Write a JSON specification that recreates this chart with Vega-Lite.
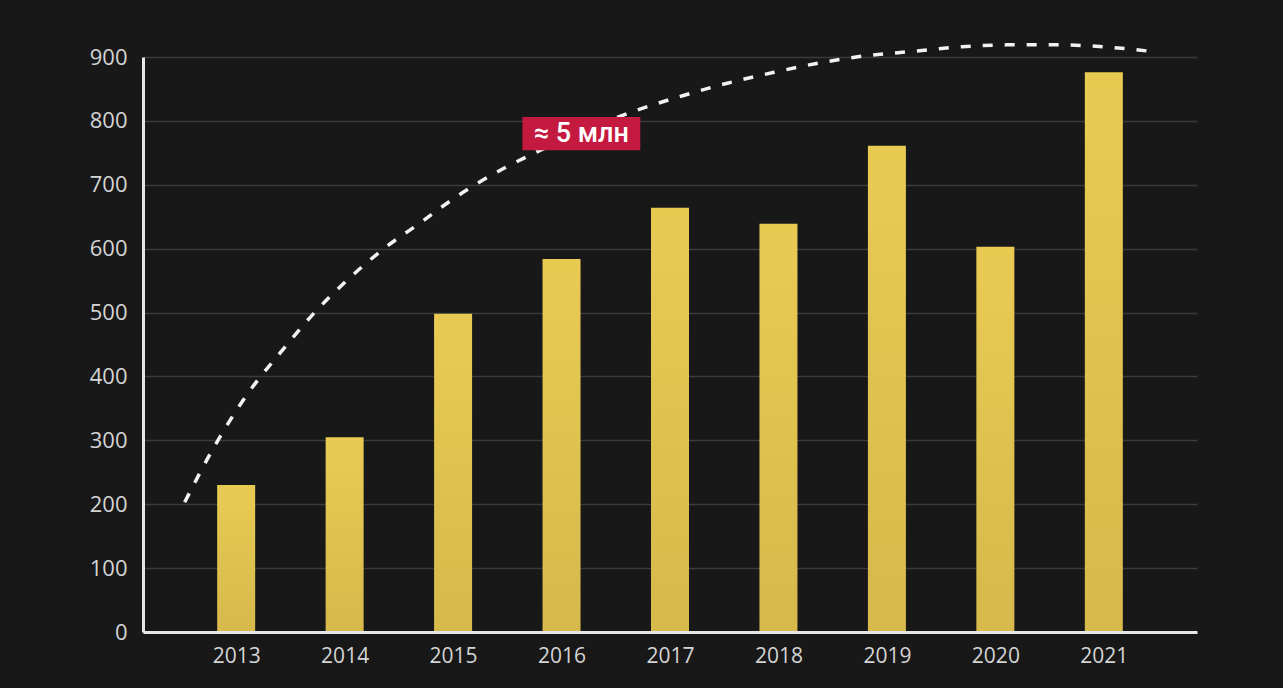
{
  "$schema": "https://vega.github.io/schema/vega-lite/v6.json",
  "width": 1054,
  "height": 575,
  "autosize": {"type": "none"},
  "padding": {"left": 143, "top": 57, "right": 86, "bottom": 56},
  "background": "#181818",
  "config": {"view": {"stroke": null}, "font": "Open Sans"},
  "datasets": {
    "bars": [
      {"year": 2013, "value": 230},
      {"year": 2014, "value": 305},
      {"year": 2015, "value": 498},
      {"year": 2016, "value": 584},
      {"year": 2017, "value": 664},
      {"year": 2018, "value": 639},
      {"year": 2019, "value": 761},
      {"year": 2020, "value": 603},
      {"year": 2021, "value": 876}
    ],
    "curve": [
      {"year": 2012.525, "value": 203},
      {"year": 2012.771, "value": 282},
      {"year": 2013.119, "value": 376},
      {"year": 2013.411, "value": 438},
      {"year": 2013.712, "value": 498},
      {"year": 2014.032, "value": 552},
      {"year": 2014.370, "value": 601},
      {"year": 2014.735, "value": 645},
      {"year": 2014.918, "value": 668},
      {"year": 2015.493, "value": 728},
      {"year": 2015.694, "value": 745},
      {"year": 2016.698, "value": 817},
      {"year": 2017.109, "value": 839},
      {"year": 2017.529, "value": 859},
      {"year": 2017.959, "value": 876},
      {"year": 2018.388, "value": 891},
      {"year": 2018.808, "value": 902},
      {"year": 2019.255, "value": 909},
      {"year": 2019.694, "value": 916},
      {"year": 2020.123, "value": 919},
      {"year": 2020.561, "value": 919},
      {"year": 2021.000, "value": 916},
      {"year": 2021.429, "value": 909},
      {"year": 2021.493, "value": 908}
    ],
    "label": [
      {"x0": 2015.639, "x1": 2016.726, "y0": 754, "y1": 806, "xm": 2016.182, "ym": 779, "text": "≈ 5 млн"}
    ]
  },
  "layer": [
    {
      "data": {"name": "bars"},
      "mark": {
        "type": "bar",
        "width": 38,
        "color": {
          "gradient": "linear", "x1": 0, "y1": 0, "x2": 0, "y2": 1,
          "stops": [{"offset": 0, "color": "#e8ca53"}, {"offset": 1, "color": "#d7b94c"}]
        }
      },
      "encoding": {
        "x": {
          "field": "year", "type": "quantitative",
          "scale": {"domain": [2012.187, 2021.813], "nice": false, "zero": false},
          "axis": {
            "title": null, "values": [2013, 2014, 2015, 2016, 2017, 2018, 2019, 2020, 2021],
            "format": "d", "grid": false, "ticks": false,
            "domainColor": "#e6e6e6", "domainWidth": 3,
            "labelColor": "#d4d4d4", "labelFontSize": 21, "labelPadding": 13,
            "labelFont": "Open Sans", "zindex": 1
          }
        },
        "y": {
          "field": "value", "type": "quantitative",
          "scale": {"domain": [0, 900], "nice": false},
          "axis": {
            "title": null, "values": [0, 100, 200, 300, 400, 500, 600, 700, 800, 900],
            "grid": true, "gridColor": "#3a3a3a", "gridWidth": 1.5,
            "ticks": false, "domainColor": "#e6e6e6", "domainWidth": 3,
            "labelColor": "#d4d4d4", "labelFontSize": 22, "labelPadding": 16,
            "labelFont": "Open Sans", "zindex": 0
          }
        }
      }
    },
    {
      "data": {"name": "curve"},
      "mark": {"type": "line", "color": "#f2f2f2", "strokeWidth": 3.5, "strokeDash": [10, 12], "interpolate": "monotone", "clip": false},
      "encoding": {
        "x": {"field": "year", "type": "quantitative"},
        "y": {"field": "value", "type": "quantitative"}
      }
    },
    {
      "data": {"name": "label"},
      "mark": {"type": "rect", "color": "#c41a40"},
      "encoding": {
        "x": {"field": "x0", "type": "quantitative"},
        "x2": {"field": "x1"},
        "y": {"field": "y0", "type": "quantitative"},
        "y2": {"field": "y1"}
      }
    },
    {
      "data": {"name": "label"},
      "mark": {"type": "text", "color": "#ffffff", "font": "Roboto", "fontSize": 27, "fontWeight": 500, "align": "center", "baseline": "middle"},
      "encoding": {
        "x": {"field": "xm", "type": "quantitative"},
        "y": {"field": "ym", "type": "quantitative"},
        "text": {"field": "text"}
      }
    }
  ]
}
